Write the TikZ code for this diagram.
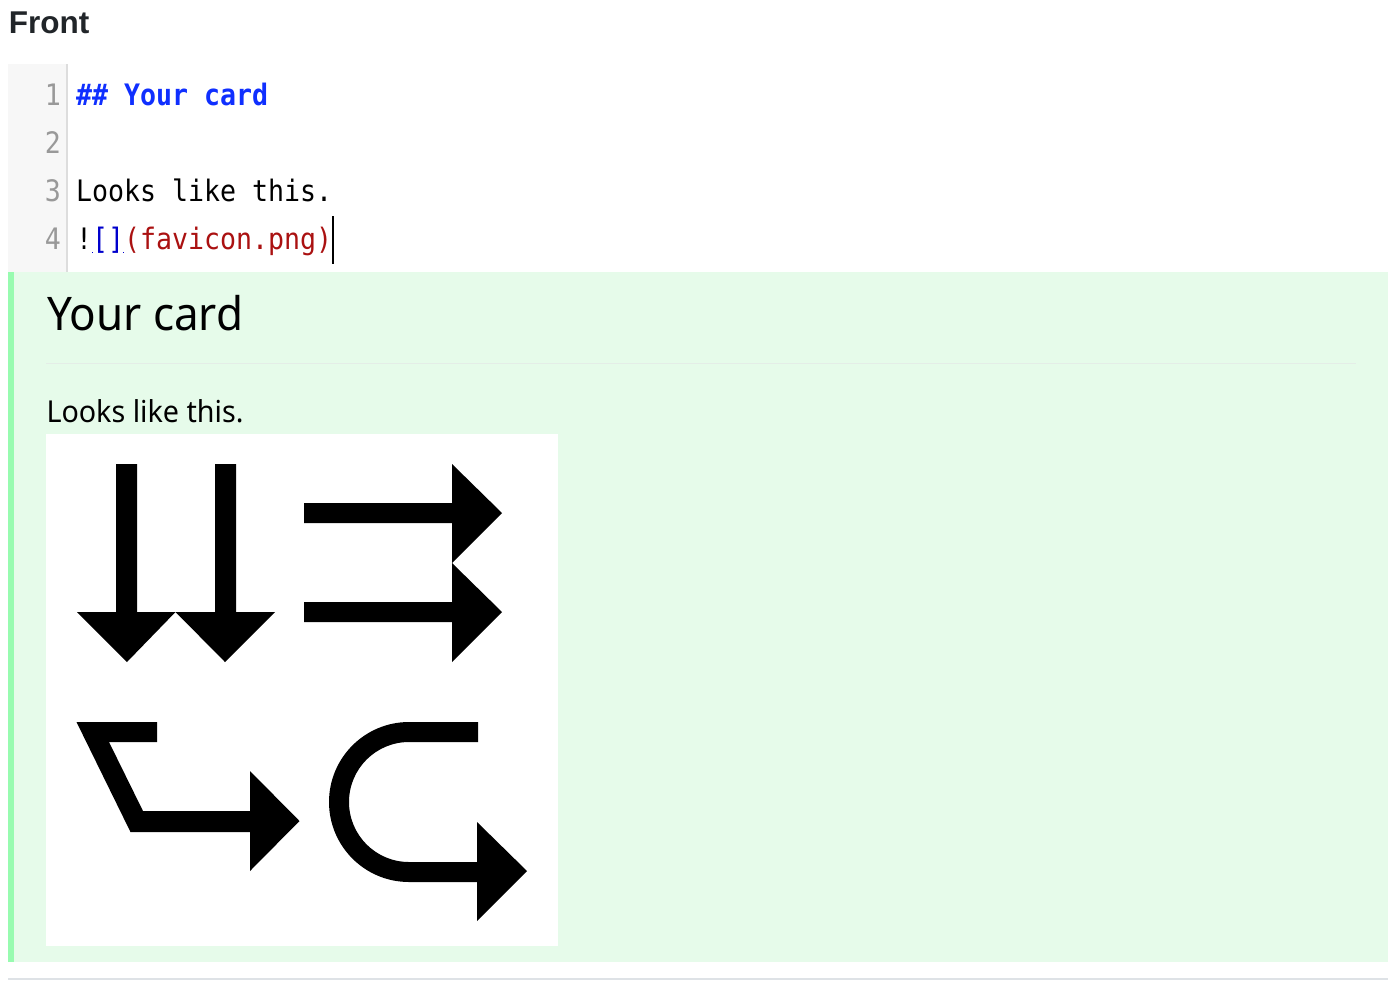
\documentclass[tikz,border=0pt]{standalone}
\usepackage{xcolor}
\usepackage{fontspec}
\setmainfont[FakeStretch=0.95]{Noto Sans}
\setmonofont[FakeStretch=0.9]{DejaVu Sans Mono}
\newfontfamily\headfont{Liberation Sans}
\definecolor{fronttext}{HTML}{212529}
\definecolor{gutterbg}{HTML}{F7F7F7}
\definecolor{gutterline}{HTML}{DDDDDD}
\definecolor{gutternum}{HTML}{999999}
\definecolor{headblue}{HTML}{0F2FFF}
\definecolor{linkblue}{HTML}{0000CC}
\definecolor{stringred}{HTML}{AA1111}
\definecolor{panelbg}{HTML}{E6FBEA}
\definecolor{panelbar}{HTML}{98FBB0}
\definecolor{panelrule}{HTML}{E4EDE7}
\definecolor{pagerule}{HTML}{DEE2E6}
\tikzset{
  x=1pt,y=-1pt,
  txt/.style={inner sep=0pt,outer sep=0pt,anchor=base west},
  codetxt/.style={txt,font=\fontsize{29.55}{32}\ttfamily},
  gutnum/.style={inner sep=0pt,outer sep=0pt,anchor=base east,text=gutternum,font=\fontsize{29.55}{32}\ttfamily}
}
\begin{document}
\begin{tikzpicture}
\useasboundingbox (0,0) rectangle (1388,996);
\node [txt,text=fronttext,font=\fontsize{31.5}{36}\headfont\bfseries] (fronthead) at (9,33.5) {Front};

\fill [gutterbg] (8,64) rectangle ++(58,208);
\fill [gutterline] (66,64) rectangle ++(2,208);
\node [gutnum] (num1) at (61,105) {1};
\node [gutnum] (num2) at (61,153) {2};
\node [gutnum] (num3) at (61,201) {3};
\node [gutnum] (num4) at (61,249) {4};

\node [codetxt,text=headblue,font=\fontsize{29.55}{32}\ttfamily\bfseries] (code1) at (76,105) {\#\# Your card};
\node [codetxt] (code3) at (76,201) {Looks like this.};
\node [codetxt] (code4) at (76,249) {!\textcolor{linkblue}{[]}\textcolor{stringred}{(favicon.png)}};
\fill [linkblue] (92,252.4) rectangle ++(0.8,0.8);
\fill [linkblue] (123.4,252.4) rectangle ++(0.8,0.8);
\fill [black] (332,216) rectangle ++(2,48);

\fill [panelbg] (8,272) rectangle (1388,962);
\fill [panelbar] (8,272) rectangle ++(6,690);
\node [txt,font=\fontsize{46.3}{50}\selectfont] (cardhead) at (47,330) {Your card};
\fill [panelrule] (46,362.5) rectangle (1356,364);
\node [txt,font=\fontsize{30.2}{36}\selectfont] (cardtext) at (46.5,422) {Looks like this.};

\fill [white] (46,434) rectangle ++(512,512);
% two arrows down
\fill [black] (116,464) -- (137,464) -- (137,612) -- (175.5,612) -- (127,662) -- (77,612) -- (116,612) -- cycle;
\fill [black] (215,464) -- (236,464) -- (236,612) -- (275,612) -- (225,662) -- (175.5,612) -- (215,612) -- cycle;
% two arrows right
\fill [black] (304,503) -- (452,503) -- (452,464) -- (502,513) -- (452,563) -- (452,523) -- (304,523) -- cycle;
\fill [black] (304,602) -- (452,602) -- (452,563) -- (502,612) -- (452,662) -- (452,622) -- (304,622) -- cycle;
% bent arrow
\fill [black] (76.5,722) -- (157,722) -- (157,742) -- (109,742) -- (143,811) -- (250,811) -- (250,771) -- (299.5,821) -- (250,871) -- (250,832) -- (130.5,832) -- cycle;
% curved arrow
\fill [black] (478,722) -- (409,722) arc[start angle=270,end angle=90,radius=80] -- (477,882) -- (477,921) -- (527,871) -- (477,822) -- (477,862) -- (409,862) arc[start angle=90,end angle=270,radius=60] -- (478,742) -- cycle;

\fill [pagerule] (8,978) rectangle (1388,980);
\end{tikzpicture}
\end{document}
